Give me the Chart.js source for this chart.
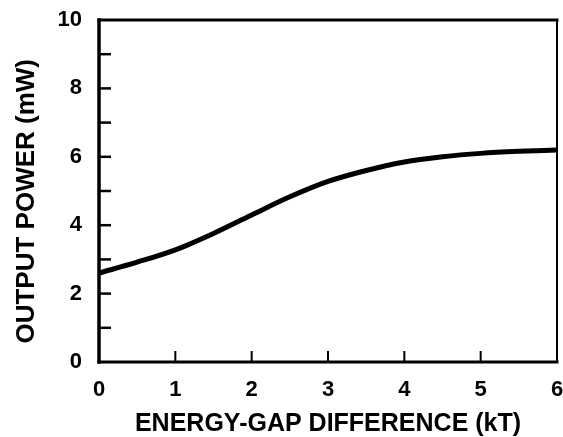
<!DOCTYPE html>
<html>
<head>
<meta charset="utf-8">
<script src="https://cdn.jsdelivr.net/npm/chart.js@4"></script>
<style>
  html, body { margin: 0; padding: 0; background: #fff; }
  #wrap { width: 563px; height: 437px; }
</style>
</head>
<body>
<div id="wrap"><canvas id="chart" width="563" height="437"></canvas></div>
<script>
// Output power versus energy-gap difference
const energyGap = [0, 0.5, 1, 1.5, 2, 2.5, 3, 3.5, 4, 4.5, 5, 5.5, 6];
const outputPower = [2.6, 2.92, 3.28, 3.76, 4.3, 4.83, 5.28, 5.6, 5.85, 6.0, 6.1, 6.16, 6.2];
const xTickValues = [0, 1, 2, 3, 4, 5, 6];
const yTickValues = [0, 2, 4, 6, 8, 10];
const yMinorTicks = [1, 2, 3, 4, 5, 6, 7, 8, 9];
const xMinorTicks = [1, 2, 3, 4, 5];
const yTitle = 'OUTPUT POWER (mW)';
const xTitle = 'ENERGY-GAP DIFFERENCE (kT)';

const FONT = '"Liberation Sans", Arial, Helvetica, sans-serif';

// Frame, inward tick marks and the vertical axis title
const framePlugin = {
  id: 'frame',
  afterDatasetsDraw(chart) {
    const { ctx, chartArea: a, scales } = chart;
    const xs = scales.x, ys = scales.y;
    ctx.save();
    ctx.strokeStyle = '#000';
    ctx.lineCap = 'square';
    ctx.lineWidth = 3.5;
    ctx.beginPath(); ctx.moveTo(a.left, a.top); ctx.lineTo(a.left, a.bottom); ctx.stroke();
    ctx.lineWidth = 3;
    ctx.beginPath(); ctx.moveTo(a.left, a.bottom); ctx.lineTo(a.right, a.bottom); ctx.stroke();
    ctx.lineWidth = 3;
    ctx.beginPath(); ctx.moveTo(a.left, a.top); ctx.lineTo(a.right, a.top); ctx.stroke();
    ctx.lineWidth = 2;
    ctx.beginPath(); ctx.moveTo(a.right, a.top); ctx.lineTo(a.right, a.bottom); ctx.stroke();

    ctx.lineCap = 'butt';
    ctx.lineWidth = 2.5;
    yMinorTicks.forEach(v => {
      const py = ys.getPixelForValue(v);
      ctx.beginPath(); ctx.moveTo(a.left, py); ctx.lineTo(a.left + 12, py); ctx.stroke();
    });
    ctx.lineWidth = 2;
    xMinorTicks.forEach(v => {
      const px = xs.getPixelForValue(v);
      ctx.beginPath(); ctx.moveTo(px, a.bottom); ctx.lineTo(px, a.bottom - 11); ctx.stroke();
    });

    // vertical title, read bottom to top
    ctx.translate(27, ys.getPixelForValue(4.7));
    ctx.rotate(-Math.PI / 2);
    ctx.fillStyle = '#000';
    ctx.font = 'bold 26px ' + FONT;
    ctx.textAlign = 'center';
    ctx.textBaseline = 'middle';
    ctx.fillText(yTitle, 0, 0);
    ctx.restore();
  }
};

new Chart(document.getElementById('chart'), {
  type: 'line',
  data: {
    datasets: [{
      data: energyGap.map((x, i) => ({ x, y: outputPower[i] })),
      borderColor: '#000',
      borderWidth: 5,
      pointRadius: 0,
      cubicInterpolationMode: 'monotone',
      fill: false,
      clip: false
    }]
  },
  options: {
    responsive: false,
    animation: false,
    devicePixelRatio: 1,
    layout: { padding: { top: 20, right: 6, left: 0, bottom: 0 } },
    plugins: { legend: { display: false }, tooltip: { enabled: false } },
    scales: {
      x: {
        type: 'linear',
        min: 0, max: 6,
        afterFit(s) { s.height = 75; s.paddingLeft = 0; s.paddingRight = 0; },
        afterBuildTicks(s) { s.ticks = xTickValues.map(v => ({ value: v })); },
        grid: { display: false, drawTicks: false },
        border: { display: false },
        ticks: {
          padding: 15,
          maxRotation: 0,
          color: '#000',
          font: { family: FONT, size: 22, weight: 'bold' }
        },
        title: {
          display: true,
          text: xTitle,
          color: '#000',
          font: { family: FONT, size: 25, weight: 'bold', lineHeight: 1 },
          padding: 0
        }
      },
      y: {
        type: 'linear',
        min: 0, max: 10,
        afterFit(s) { s.width = 99; s.paddingTop = 0; s.paddingBottom = 0; },
        afterBuildTicks(s) { s.ticks = yTickValues.map(v => ({ value: v })); },
        grid: { display: false, drawTicks: false },
        border: { display: false },
        ticks: {
          padding: 17,
          color: '#000',
          font: { family: FONT, size: 22, weight: 'bold' }
        },
        title: { display: false }
      }
    }
  },
  plugins: [framePlugin]
});
</script>
</body>
</html>
